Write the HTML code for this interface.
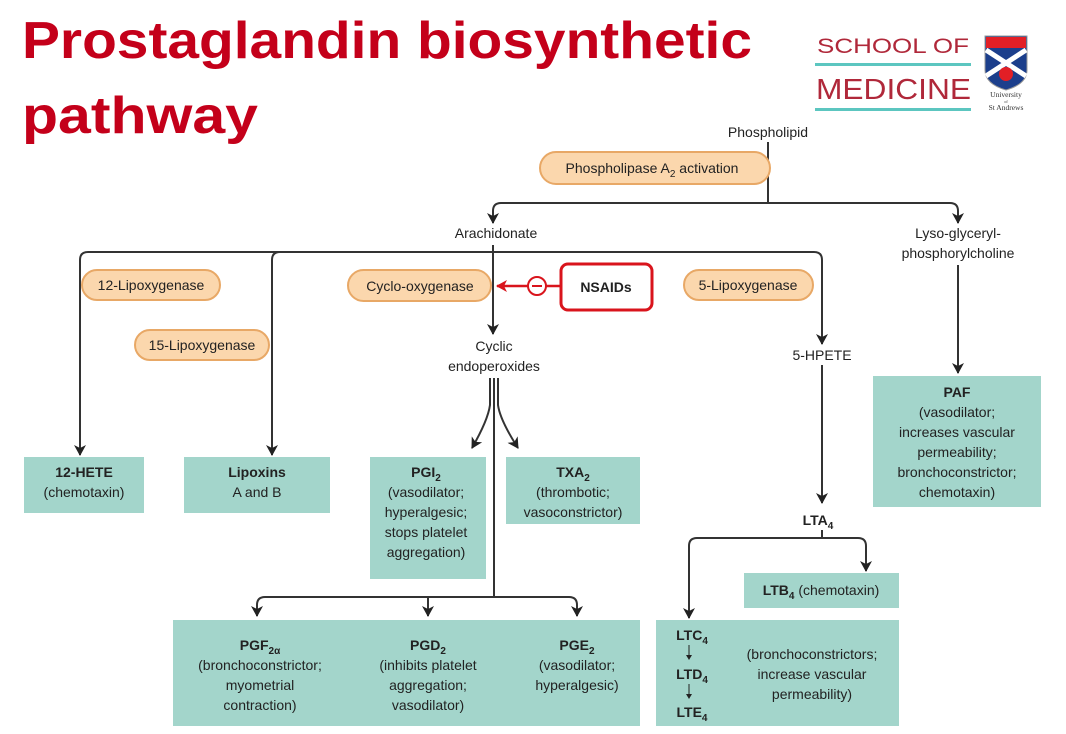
<!DOCTYPE html>
<html><head><meta charset="utf-8"><style>
body{margin:0;background:#fff;}
svg{display:block;font-family:"Liberation Sans",Arial,sans-serif;}
.t{font-size:14px;fill:#222;text-anchor:middle;}
.b{font-weight:bold;}
.ln{stroke:#333;stroke-width:2;fill:none;}
.box{fill:#a3d5cb;}
.pill{fill:#fbd7ad;stroke:#e8a866;stroke-width:2;}
</style></head><body>
<svg width="1066" height="734" viewBox="0 0 1066 734">
<defs>
<marker id="ar" markerWidth="12" markerHeight="12" refX="10" refY="6" orient="auto" markerUnits="userSpaceOnUse"><path d="M0,0 L11,6 L0,12 L3,6 Z" fill="#222"/></marker>
<marker id="ar2" markerWidth="12" markerHeight="12" refX="10" refY="6" orient="auto" markerUnits="userSpaceOnUse"><path d="M0,0 L11,6 L0,12 L3,6 Z" fill="#d9141c"/></marker>
</defs>
<!-- title -->
<text x="22" y="58" font-size="52" font-weight="bold" fill="#c4001a" textLength="730" lengthAdjust="spacingAndGlyphs">Prostaglandin biosynthetic</text>
<text x="22" y="133" font-size="52" font-weight="bold" fill="#c4001a" textLength="236" lengthAdjust="spacingAndGlyphs">pathway</text>
<!-- logo -->
<text x="817" y="53" font-family="'Liberation Sans',sans-serif" font-size="21" fill="#b0283a" textLength="152" lengthAdjust="spacingAndGlyphs">SCHOOL OF</text>
<rect x="815" y="63" width="156" height="3" fill="#5cc6c0"/>
<text x="816" y="99" font-family="'Liberation Sans',sans-serif" font-size="29" fill="#b0283a" textLength="155" lengthAdjust="spacingAndGlyphs">MEDICINE</text>
<rect x="815" y="108" width="156" height="3" fill="#5cc6c0"/>
<path d="M985,36 H1027 V70 Q1027,84 1006,90 Q985,84 985,70 Z" fill="#1c3f8c" stroke="#999" stroke-width="1"/>
<rect x="986" y="37" width="40" height="11" fill="#e21f26"/>
<path d="M986,50 L1026,76 M1026,50 L986,76" stroke="#fff" stroke-width="5"/>
<circle cx="1006" cy="74" r="7" fill="#e21f26"/>
<text x="1006" y="97" font-family="'Liberation Serif',serif" font-size="7.5" fill="#333" text-anchor="middle">University</text>
<text x="1006" y="103" font-family="'Liberation Serif',serif" font-size="4" fill="#333" text-anchor="middle">of</text>
<text x="1006" y="110" font-family="'Liberation Serif',serif" font-size="7.5" fill="#333" text-anchor="middle">St Andrews</text>

<!-- top part -->
<text class="t" x="768" y="137">Phospholipid</text>
<path class="ln" d="M768,142 V203"/>
<path class="ln" d="M501,203 H950 Q958,203 958,211 V223" marker-end="url(#ar)"/>
<path class="ln" d="M501,203 Q493,203 493,211 V223" marker-end="url(#ar)"/>
<rect class="pill" x="540" y="152" width="230" height="32" rx="16"/>
<text class="t" x="652" y="173">Phospholipase A<tspan font-size="10" dy="4">2</tspan><tspan dy="-4"> activation</tspan></text>
<text class="t" x="496" y="238">Arachidonate</text>
<text class="t" x="958" y="238">Lyso-glyceryl-</text>
<text class="t" x="958" y="258">phosphorylcholine</text>
<path class="ln" d="M958,265 V373" marker-end="url(#ar)"/>

<!-- main horizontal -->
<path class="ln" d="M88,252 H814 Q822,252 822,260 V344" marker-end="url(#ar)"/>
<path class="ln" d="M88,252 Q80,252 80,260 V455" marker-end="url(#ar)"/>
<path class="ln" d="M280,252 Q272,252 272,260 V455" marker-end="url(#ar)"/>
<path class="ln" d="M493,245 V334" marker-end="url(#ar)"/>
<rect class="pill" x="82" y="270" width="138" height="30" rx="15"/>
<text class="t" x="151" y="290">12-Lipoxygenase</text>
<rect class="pill" x="135" y="330" width="134" height="30" rx="15"/>
<text class="t" x="202" y="350">15-Lipoxygenase</text>
<rect class="pill" x="348" y="270" width="143" height="31" rx="15.5"/>
<text class="t" x="420" y="291">Cyclo-oxygenase</text>
<rect class="pill" x="684" y="270" width="129" height="30" rx="15"/>
<text class="t" x="748" y="290">5-Lipoxygenase</text>
<!-- NSAIDs -->
<path d="M560,286 H497" stroke="#d9141c" stroke-width="2.5" fill="none" marker-end="url(#ar2)"/>
<circle cx="537" cy="286" r="9" fill="#fff" stroke="#d9141c" stroke-width="2"/>
<path d="M532,286 H542" stroke="#d9141c" stroke-width="2"/>
<rect x="561" y="264" width="91" height="46" rx="7" fill="#fff" stroke="#d9141c" stroke-width="3"/>
<text class="t b" x="606" y="292" font-size="16">NSAIDs</text>

<text class="t" x="494" y="351">Cyclic</text>
<text class="t" x="494" y="371">endoperoxides</text>
<text class="t" x="822" y="360">5-HPETE</text>

<!-- cyclic branches -->
<path class="ln" d="M490,378 V405 Q488,420 472,448" marker-end="url(#ar)"/>
<path class="ln" d="M498,378 V405 Q500,420 518,448" marker-end="url(#ar)"/>
<path class="ln" d="M494,378 V597"/>
<path class="ln" d="M265,597 H569 Q577,597 577,605 V616" marker-end="url(#ar)"/>
<path class="ln" d="M265,597 Q257,597 257,605 V616" marker-end="url(#ar)"/>
<path class="ln" d="M428,597 V616" marker-end="url(#ar)"/>

<!-- 5-HPETE chain -->
<path class="ln" d="M822,365 V503" marker-end="url(#ar)"/>
<text class="t b" x="818" y="525">LTA<tspan font-size="10" dy="4">4</tspan></text>
<path class="ln" d="M822,530 V538"/>
<path class="ln" d="M697,538 H858 Q866,538 866,546 V571" marker-end="url(#ar)"/>
<path class="ln" d="M697,538 Q689,538 689,546 V618" marker-end="url(#ar)"/>

<!-- boxes -->
<rect class="box" x="24" y="457" width="120" height="56"/>
<text class="t b" x="84" y="477">12-HETE</text>
<text class="t" x="84" y="497">(chemotaxin)</text>
<rect class="box" x="184" y="457" width="146" height="56"/>
<text class="t b" x="257" y="477">Lipoxins</text>
<text class="t" x="257" y="497">A and B</text>
<rect class="box" x="370" y="457" width="116" height="122"/>
<text class="t b" x="426" y="477">PGI<tspan font-size="10" dy="4">2</tspan></text>
<text class="t" x="426" y="497">(vasodilator;</text>
<text class="t" x="426" y="517">hyperalgesic;</text>
<text class="t" x="426" y="537">stops platelet</text>
<text class="t" x="426" y="557">aggregation)</text>
<rect class="box" x="506" y="457" width="134" height="67"/>
<text class="t b" x="573" y="477">TXA<tspan font-size="10" dy="4">2</tspan></text>
<text class="t" x="573" y="497">(thrombotic;</text>
<text class="t" x="573" y="517">vasoconstrictor)</text>
<rect class="box" x="173" y="620" width="467" height="106"/>
<text class="t b" x="260" y="650">PGF<tspan font-size="10" dy="4">2α</tspan></text>
<text class="t" x="260" y="670">(bronchoconstrictor;</text>
<text class="t" x="260" y="690">myometrial</text>
<text class="t" x="260" y="710">contraction)</text>
<text class="t b" x="428" y="650">PGD<tspan font-size="10" dy="4">2</tspan></text>
<text class="t" x="428" y="670">(inhibits platelet</text>
<text class="t" x="428" y="690">aggregation;</text>
<text class="t" x="428" y="710">vasodilator)</text>
<text class="t b" x="577" y="650">PGE<tspan font-size="10" dy="4">2</tspan></text>
<text class="t" x="577" y="670">(vasodilator;</text>
<text class="t" x="577" y="690">hyperalgesic)</text>
<rect class="box" x="873" y="376" width="168" height="131"/>
<text class="t b" x="957" y="397">PAF</text>
<text class="t" x="957" y="417">(vasodilator;</text>
<text class="t" x="957" y="437">increases vascular</text>
<text class="t" x="957" y="457">permeability;</text>
<text class="t" x="957" y="477">bronchoconstrictor;</text>
<text class="t" x="957" y="497">chemotaxin)</text>
<rect class="box" x="744" y="573" width="155" height="35"/>
<text class="t" x="821" y="595"><tspan font-weight="bold">LTB<tspan font-size="10" dy="4">4</tspan></tspan><tspan dy="-4"> (chemotaxin)</tspan></text>
<rect class="box" x="656" y="620" width="243" height="106"/>
<text class="t b" x="692" y="640">LTC<tspan font-size="10" dy="4">4</tspan></text>
<path d="M689,645 V657" stroke="#222" stroke-width="1"/><path d="M686,655 L689,660 L692,655 Z" fill="#222"/>
<text class="t b" x="692" y="679">LTD<tspan font-size="10" dy="4">4</tspan></text>
<path d="M689,684 V696" stroke="#222" stroke-width="1"/><path d="M686,694 L689,699 L692,694 Z" fill="#222"/>
<text class="t b" x="692" y="717">LTE<tspan font-size="10" dy="4">4</tspan></text>
<text class="t" x="812" y="659">(bronchoconstrictors;</text>
<text class="t" x="812" y="679">increase vascular</text>
<text class="t" x="812" y="699">permeability)</text>
</svg>
</body></html>
